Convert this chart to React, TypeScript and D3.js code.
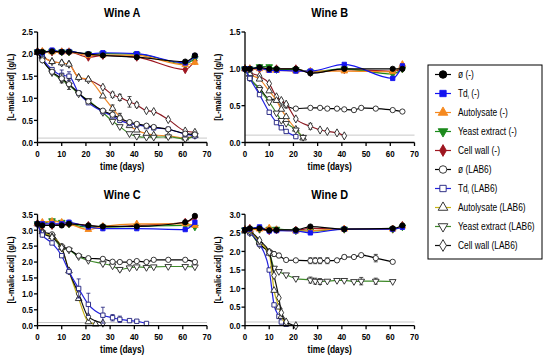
import React from "react";
import * as d3 from "d3";

// sampling days
const daysFlat = [0, 2, 6, 10, 13, 21, 27, 41, 61, 65];
const daysLab = [0, 2, 6, 10, 13, 17, 21, 27, 31, 34, 38, 41, 45, 48, 54, 61, 65];
const daysBctrlL = [0, 2, 6, 10, 13, 15, 17, 21, 27, 31, 34, 38, 41, 45, 48, 54, 61, 65];
const daysBfast = [0, 2, 6, 10, 13, 15, 17, 21];
const daysBmid = [0, 2, 6, 10, 13, 15, 17, 21, 24];
const daysBcwL = [0, 2, 6, 10, 13, 15, 17, 21, 27, 31, 34, 38, 41];
const daysCtdL = [0, 2, 6, 10, 13, 17, 21, 27, 31, 34, 38, 41, 45];
const daysCautL = [0, 2, 6, 10, 13, 17, 21, 24];
const daysCcwL = [0, 2, 6, 10, 13, 17, 21, 27];
const daysDslow = [0, 2, 6, 10, 12, 14, 17, 21, 27, 29, 31, 34, 38, 41, 45, 48, 54, 61];
const daysDfast = [0, 2, 6, 10, 12, 14, 15, 17];
const daysDcwL = [0, 2, 6, 10, 12, 14, 15, 17, 21];

// Wine A
const aCtrl = [2.05, 2.05, 2.06, 2.05, 2.05, 2.0, 1.97, 1.93, 1.83, 1.97];
const aTd = [2.05, 2.03, 2.09, 2.05, 2.06, 2.0, 2.03, 2.01, 1.8, 1.96];
const aAut = [2.05, 2.06, 2.05, 2.05, 2.05, 1.97, 1.98, 1.97, 1.76, 1.81];
const aYe = [2.05, 2.04, 2.07, 2.05, 2.05, 2.0, 2.01, 2.0, 1.78, 1.9];
const aCw = [2.05, 2.05, 2.05, 2.05, 2.05, 1.93, 1.97, 1.93, 1.65, 1.85];
const aCtrlL = [2.05, 1.86, 1.6, 1.45, 1.32, 1.12, 0.93, 0.72, 0.63, 0.55, 0.46, 0.42, 0.38, 0.35, 0.3, 0.2, 0.18];
const aTdL = [2.05, 1.9, 1.65, 1.52, 1.5, 1.12, 0.9, 0.7, 0.6, 0.5, 0.43, 0.4, 0.36, 0.33, 0.3, 0.19, 0.15];
const aAutL = [2.05, 1.95, 1.83, 1.8, 1.77, 1.47, 1.43, 1.05, 0.77, 0.58, 0.38, 0.28, 0.2, 0.17, 0.15, 0.1, 0.16];
const aYeL = [2.05, 1.88, 1.58, 1.42, 1.3, 1.1, 0.95, 0.68, 0.48, 0.36, 0.2, 0.14, 0.12, 0.12, 0.13, 0.08, 0.16];
const aCwL = [2.05, 1.95, 1.83, 1.8, 1.77, 1.47, 1.42, 1.25, 1.08, 1.02, 0.92, 0.85, 0.72, 0.7, 0.52, 0.26, 0.23];
const aCtrlLErr = [0, 0, 0, 0.1, 0.12, 0, 0, 0, 0, 0, 0, 0, 0, 0, 0, 0, 0];
const aTdLErr = [0, 0, 0, 0.12, 0.1, 0, 0, 0, 0, 0, 0, 0, 0, 0, 0, 0, 0];
const aAutLErr = [0, 0, 0, 0, 0, 0, 0, 0, 0.08, 0.08, 0, 0, 0, 0, 0, 0, 0];
const aCwLErr = [0, 0, 0, 0, 0, 0, 0, 0, 0.06, 0.07, 0.12, 0.05, 0, 0, 0, 0, 0];

// Wine B
const bCtrl = [1.0, 1.0, 1.02, 1.0, 1.0, 1.0, 0.94, 1.0, 1.0, 1.0];
const bTd = [1.0, 1.0, 1.01, 0.98, 0.98, 0.97, 0.97, 1.06, 0.87, 1.04];
const bAut = [1.0, 1.0, 1.0, 0.98, 0.98, 0.97, 0.97, 0.97, 0.96, 1.06];
const bYe = [1.0, 1.0, 1.03, 1.03, 0.99, 0.99, 0.96, 1.0, 0.93, 1.0];
const bCw = [1.0, 1.0, 1.0, 1.0, 1.0, 1.0, 0.95, 0.99, 0.97, 1.0];
const bCtrlL = [1.0, 0.87, 0.74, 0.59, 0.58, 0.54, 0.5, 0.46, 0.47, 0.47, 0.46, 0.46, 0.45, 0.44, 0.47, 0.46, 0.44, 0.42];
const bTdL = [1.0, 0.87, 0.65, 0.41, 0.27, 0.2, 0.15, 0.08];
const bAutL = [1.0, 0.93, 0.86, 0.7, 0.57, 0.45, 0.35, 0.18, 0.06];
const bYeL = [1.0, 0.88, 0.72, 0.55, 0.4, 0.3, 0.26, 0.17, 0.07];
const bCwL = [1.0, 0.95, 0.9, 0.8, 0.62, 0.57, 0.52, 0.32, 0.22, 0.17, 0.15, 0.13, 0.09];
const bCwLErr = [0, 0, 0, 0, 0, 0, 0, 0, 0.04, 0, 0, 0, 0];

// Wine C
const cCtrl = [3.2, 3.15, 3.15, 3.15, 3.2, 3.15, 3.12, 3.12, 3.25, 3.45];
const cTd = [3.2, 3.2, 3.2, 3.2, 3.25, 3.1, 3.05, 3.05, 3.02, 3.25];
const cAut = [3.2, 3.25, 3.28, 3.25, 3.2, 3.02, 3.12, 3.2, 3.2, 3.15];
const cYe = [3.2, 3.2, 3.3, 3.25, 3.2, 3.1, 3.1, 3.12, 3.15, 3.1];
const cCw = [3.2, 3.15, 3.15, 3.2, 3.2, 3.15, 3.1, 3.15, 3.25, 3.4];
const cCtrlL = [3.2, 2.95, 2.87, 2.5, 2.4, 2.2, 2.12, 2.1, 2.01, 2.0, 2.0, 2.03, 2.0, 2.07, 2.07, 2.07, 2.0];
const cTdL = [3.2, 2.85, 2.6, 2.2, 1.7, 1.17, 0.67, 0.33, 0.25, 0.2, 0.16, 0.14, 0.07];
const cAutL = [3.2, 2.95, 2.8, 2.45, 1.72, 0.85, 0.12, 0.05];
const cYeL = [3.2, 2.92, 2.8, 2.45, 2.38, 2.17, 2.05, 1.95, 1.88, 1.77, 1.82, 1.85, 1.83, 1.85, 1.86, 1.86, 1.85];
const cCwL = [3.2, 2.9, 2.77, 2.45, 1.72, 1.0, 0.28, 0.08];
const cTdLErr = [0, 0, 0, 0, 0, 0.3, 0.35, 0.25, 0.1, 0.1, 0, 0, 0];
const cYeLErr = [0, 0, 0, 0, 0, 0, 0, 0, 0, 0.05, 0, 0, 0, 0, 0, 0, 0];

// Wine D
const dCtrl = [2.58, 2.62, 2.62, 2.57, 2.58, 2.58, 2.67, 2.6, 2.62, 2.7];
const dTd = [2.58, 2.6, 2.66, 2.55, 2.56, 2.55, 2.5, 2.6, 2.6, 2.65];
const dAut = [2.58, 2.58, 2.6, 2.63, 2.58, 2.55, 2.56, 2.6, 2.6, 2.68];
const dYe = [2.58, 2.6, 2.6, 2.6, 2.6, 2.56, 2.55, 2.6, 2.6, 2.66];
const dCw = [2.58, 2.62, 2.6, 2.56, 2.58, 2.57, 2.62, 2.6, 2.6, 2.7];
const dCtrlL = [2.58, 2.52, 2.2, 2.0, 1.93, 1.89, 1.77, 1.76, 1.75, 1.75, 1.75, 1.75, 1.76, 1.85, 1.85, 1.9, 1.82, 1.72];
const dTdL = [2.58, 2.5, 2.2, 1.5, 0.56, 0.25, 0.1, 0.04];
const dAutL = [2.58, 2.55, 2.25, 1.95, 0.95, 0.5, 0.25, 0.05];
const dYeL = [2.58, 2.5, 2.18, 1.97, 1.55, 1.46, 1.37, 1.27, 1.23, 1.2, 1.19, 1.2, 1.22, 1.22, 1.19, 1.2, 1.2, 1.19];
const dCwL = [2.58, 2.55, 2.3, 1.98, 1.35, 0.75, 0.35, 0.1, 0.0];
const dCtrlLErr = [0, 0, 0, 0, 0.06, 0.06, 0, 0, 0.08, 0.08, 0.08, 0.08, 0, 0.05, 0, 0, 0.1, 0];
const dYeLErr = [0, 0, 0, 0, 0, 0, 0, 0, 0.08, 0.08, 0.08, 0, 0, 0, 0, 0.1, 0.08, 0];

const detectionLimit = 0.1;
const xTicks = [0, 10, 20, 30, 40, 50, 60, 70];

const legendKeys = ["ctrl", "td", "aut", "ye", "cw", "ctrlL", "tdL", "autL", "yeL", "cwL"];
const legendNames = ["ø", "Td", "Autolysate", "Yeast extract", "Cell wall", "ø", "Td", "Autolysate", "Yeast extract", "Cell wall"];

type SeriesStyle = { line: string; mark: string; fill: string; shape: string };

const styles: Record<string, SeriesStyle> = {
  ctrl: { line: "#000000", mark: "#000000", fill: "#000000", shape: "circle" },
  td: { line: "#1414f0", mark: "#1414f0", fill: "#1414f0", shape: "square" },
  aut: { line: "#f5891f", mark: "#f5891f", fill: "#f5891f", shape: "up" },
  ye: { line: "#1c8a1c", mark: "#1c8a1c", fill: "#1c8a1c", shape: "down" },
  cw: { line: "#9e1620", mark: "#9e1620", fill: "#9e1620", shape: "diamond" },
  ctrlL: { line: "#000000", mark: "#222222", fill: "#ffffff", shape: "circle" },
  tdL: { line: "#2222dd", mark: "#1c1c7a", fill: "#ffffff", shape: "square" },
  autL: { line: "#c8b414", mark: "#222222", fill: "#ffffff", shape: "up" },
  yeL: { line: "#3f8a2a", mark: "#222222", fill: "#ffffff", shape: "down" },
  cwL: { line: "#111111", mark: "#222222", fill: "#ffffff", shape: "diamond" },
};

const symbolFor = (shape: string, size: number) => {
  const type =
    shape === "circle" ? d3.symbolCircle :
    shape === "square" ? d3.symbolSquare :
    shape === "diamond" ? d3.symbolDiamond : d3.symbolTriangle;
  return d3.symbol().type(type).size(size)() || "";
};

type Series = { key: string; days: number[]; values: number[]; err?: number[] };

const flat = (c: number[], t: number[], a: number[], y: number[], w: number[]): Series[] => [
  { key: "ctrl", days: daysFlat, values: c },
  { key: "td", days: daysFlat, values: t },
  { key: "aut", days: daysFlat, values: a },
  { key: "ye", days: daysFlat, values: y },
  { key: "cw", days: daysFlat, values: w },
];

const panels = [
  {
    title: "Wine A", yMax: 2.5, left: 37.5, top: 32, bottom: 142.5,
    lineOverride: { autL: "#f0892a", cwL: "#8b1a22" } as Record<string, string>,
    series: [
      { key: "cwL", days: daysLab, values: aCwL, err: aCwLErr },
      { key: "autL", days: daysLab, values: aAutL, err: aAutLErr },
      { key: "yeL", days: daysLab, values: aYeL },
      { key: "tdL", days: daysLab, values: aTdL, err: aTdLErr },
      { key: "ctrlL", days: daysLab, values: aCtrlL, err: aCtrlLErr },
      ...flat(aCtrl, aTd, aAut, aYe, aCw).reverse(),
    ],
  },
  {
    title: "Wine B", yMax: 1.5, left: 245, top: 32, bottom: 142.5,
    lineOverride: { autL: "#f0892a", cwL: "#8b1a22" } as Record<string, string>,
    series: [
      { key: "ctrlL", days: daysBctrlL, values: bCtrlL },
      { key: "cwL", days: daysBcwL, values: bCwL, err: bCwLErr },
      { key: "autL", days: daysBmid, values: bAutL },
      { key: "yeL", days: daysBmid, values: bYeL },
      { key: "tdL", days: daysBfast, values: bTdL },
      ...flat(bCtrl, bTd, bAut, bYe, bCw).reverse(),
    ],
  },
  {
    title: "Wine C", yMax: 3.5, left: 37.5, top: 214.3, bottom: 325.7,
    lineOverride: {} as Record<string, string>,
    series: [
      { key: "yeL", days: daysLab, values: cYeL, err: cYeLErr },
      { key: "ctrlL", days: daysLab, values: cCtrlL },
      { key: "autL", days: daysCautL, values: cAutL },
      { key: "cwL", days: daysCcwL, values: cCwL },
      { key: "tdL", days: daysCtdL, values: cTdL, err: cTdLErr },
      ...flat(cCtrl, cTd, cAut, cYe, cCw).reverse(),
    ],
  },
  {
    title: "Wine D", yMax: 3.0, left: 245, top: 214.3, bottom: 325.7,
    lineOverride: {} as Record<string, string>,
    series: [
      { key: "yeL", days: daysDslow, values: dYeL, err: dYeLErr },
      { key: "ctrlL", days: daysDslow, values: dCtrlL, err: dCtrlLErr },
      { key: "tdL", days: daysDfast, values: dTdL },
      { key: "autL", days: daysDfast, values: dAutL },
      { key: "cwL", days: daysDcwL, values: dCwL },
      ...flat(dCtrl, dTd, dAut, dYe, dCw).reverse(),
    ],
  },
];

const PLOT_W = 169.5;
const FONT = "'Liberation Sans', Arial, sans-serif";
const SQUEEZE = 0.84; // reference uses a condensed face

// text squeezed horizontally so it reads like the narrow font of the original
const CText = ({ x, y, rotate, children, ...rest }: any) => (
  <text transform={`translate(${x},${y})${rotate ? ` rotate(${rotate})` : ""} scale(${SQUEEZE},1)`} {...rest}>
    {children}
  </text>
);

const Marker = ({ shape, x, y, size, fill, stroke }: any) => (
  <path
    d={symbolFor(shape, size)}
    transform={`translate(${x},${y})${shape === "down" ? " rotate(180)" : ""}`}
    fill={fill}
    stroke={stroke}
    strokeWidth={0.9}
  />
);

const Panel = ({ p }: { p: (typeof panels)[number] }) => {
  const x = d3.scaleLinear().domain([0, 70]).range([p.left, p.left + PLOT_W]);
  const y = d3.scaleLinear().domain([0, p.yMax]).range([p.bottom, p.top]);
  const yTicks = d3.range(0, p.yMax + 0.001, 0.5);
  const fmt = d3.format(".1f");
  const line = d3.line<[number, number]>()
    .x((d) => x(d[0]))
    .y((d) => y(d[1]))
    .curve(d3.curveMonotoneX);
  const cx = p.left + PLOT_W / 2;
  const cy = (p.top + p.bottom) / 2;

  return (
    <g fontFamily={FONT}>
      <CText x={cx} y={p.top - 15.5} textAnchor="middle" fontSize={13} fontWeight="bold">{p.title}</CText>
      <line x1={x(0)} x2={x(70)} y1={y(detectionLimit)} y2={y(detectionLimit)} stroke="#bbbbbb" strokeWidth={0.8} />

      {p.series.map((s) => {
        const st = styles[s.key];
        const lineColor = p.lineOverride[s.key] ?? st.line;
        const pts = s.days.map((d, i) => [d, s.values[i]] as [number, number]);
        return (
          <g key={s.key}>
            <path d={line(pts) || ""} fill="none" stroke={lineColor} strokeWidth={1.2} />
            {s.err && pts.map((pt, i) => s.err![i] > 0 ? (
              <g key={i} stroke={st.mark} strokeWidth={0.8}>
                <line x1={x(pt[0])} x2={x(pt[0])} y1={y(pt[1] - s.err![i])} y2={y(pt[1] + s.err![i])} />
                <line x1={x(pt[0]) - 2} x2={x(pt[0]) + 2} y1={y(pt[1] + s.err![i])} y2={y(pt[1] + s.err![i])} />
                <line x1={x(pt[0]) - 2} x2={x(pt[0]) + 2} y1={y(pt[1] - s.err![i])} y2={y(pt[1] - s.err![i])} />
              </g>
            ) : null)}
            {pts.map((pt, i) => (
              <Marker key={i} shape={st.shape} x={x(pt[0])} y={y(pt[1])} size={st.shape === "circle" ? 22 : 19}
                fill={st.fill} stroke={st.mark} />
            ))}
          </g>
        );
      })}

      {/* axes */}
      <g stroke="#000" strokeWidth={1.3} fill="none">
        <line x1={p.left} x2={p.left} y1={y(0)} y2={y(p.yMax)} />
        <line x1={x(0)} x2={x(70)} y1={y(0)} y2={y(0)} />
        {yTicks.map((t) => <line key={t} x1={p.left - 3.5} x2={p.left} y1={y(t)} y2={y(t)} />)}
        {xTicks.map((t) => <line key={t} x1={x(t)} x2={x(t)} y1={y(0)} y2={y(0) + 3.5} />)}
      </g>
      {yTicks.map((t) => (
        <CText key={t} x={p.left - 4.5} y={y(t) + 3.3} textAnchor="end" fontSize={9.5} fontWeight="bold">{fmt(t)}</CText>
      ))}
      {xTicks.map((t) => (
        <CText key={t} x={x(t)} y={y(0) + 14} textAnchor="middle" fontSize={9.5} fontWeight="bold">{t}</CText>
      ))}
      <CText x={cx} y={y(0) + 27} textAnchor="middle" fontSize={10} fontWeight="bold">time (days)</CText>
      <CText x={p.left - 24} y={cy} rotate={-90} textAnchor="middle" fontSize={9} fontWeight="bold">
        [L-malic acid] (g/L)
      </CText>
    </g>
  );
};

const Legend = () => {
  const rowY = d3.scaleLinear().domain([0, 9]).range([74.5, 245.5]);
  return (
    <g fontFamily={FONT}>
      <rect x={428} y={65} width={114} height={194} fill="#fff" stroke="#000" strokeWidth={1} />
      {legendKeys.map((k, i) => {
        const st = styles[k];
        const yy = rowY(i);
        const suffix = i < 5 ? " (-)" : " (LAB6)";
        return (
          <g key={k}>
            <line x1={435} x2={451} y1={yy} y2={yy} stroke={st.line} strokeWidth={1.2} />
            <Marker shape={st.shape} x={443} y={yy} size={st.shape === "circle" ? 45 : 40} fill={st.fill} stroke={st.mark} />
            <CText x={458} y={yy + 3.5} fontSize={10}>
              {legendNames[i] === "Td" ? (
                <>
                  Td<tspan fontSize={6} dy={2}>i</tspan><tspan dy={-2}>{suffix}</tspan>
                </>
              ) : (
                legendNames[i] + suffix
              )}
            </CText>
          </g>
        );
      })}
    </g>
  );
};

export default function App() {
  return (
    <svg width={550} height={362} style={{ position: "absolute", left: 0, top: 0, background: "#fff" }}>
      <rect width={550} height={362} fill="#fff" />
      {panels.map((p) => <Panel key={p.title} p={p} />)}
      <Legend />
    </svg>
  );
}
